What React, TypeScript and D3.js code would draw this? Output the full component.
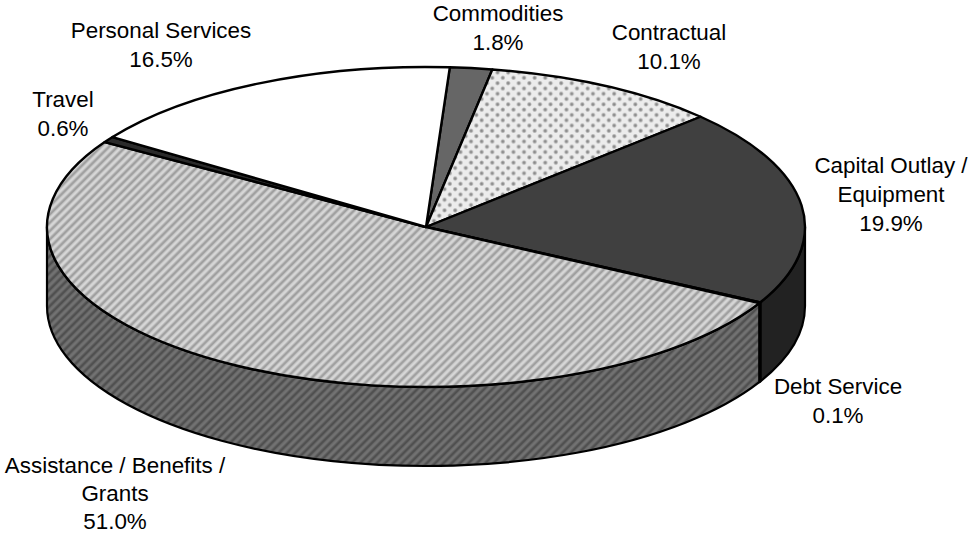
import React from "react";
import * as d3 from "d3";

const categories = ["Commodities", "Contractual", "Capital Outlay / Equipment", "Debt Service", "Assistance / Benefits / Grants", "Travel", "Personal Services"];
const shares = [1.8, 10.1, 19.9, 0.1, 51.0, 0.6, 16.5];
const labelLines = [
  ["Commodities"],
  ["Contractual"],
  ["Capital Outlay /", "Equipment"],
  ["Debt Service"],
  ["Assistance / Benefits /", "Grants"],
  ["Travel"],
  ["Personal Services"],
];

const WIDTH = 971;
const HEIGHT = 534;
const CX = 426;
const CY = 227;
const RX = 379;
const RY = 160;
const DEPTH = 79;
const START_DEG = 3.6;
const FONT = "'Liberation Sans', Arial, sans-serif";
const FONT_SIZE = 22.4;
const LINE_H = 29;

// Anchor (centre x, first baseline y, line step) of each slice's label block, by category order.
const labelAnchors: [number, number, number][] = [
  [498, 21, LINE_H],
  [669, 40, LINE_H],
  [891, 173, LINE_H],
  [838, 394, LINE_H],
  [115, 473, 28],
  [63, 107, LINE_H],
  [161, 38, LINE_H],
];

const topFills = ["#666666", "url(#dots)", "#404040", "#202020", "url(#stripes)", "#2a2a2a", "#ffffff"];
const sideFills = ["#444444", "#888888", "#222222", "#111111", "url(#stripesDark)", "#1c1c1c", "#aaaaaa"];

const pt = (a: number, dy = 0): [number, number] => [CX + RX * Math.sin(a), CY - RY * Math.cos(a) + dy];

const topPath = (a0: number, a1: number) => {
  const [x0, y0] = pt(a0);
  const [x1, y1] = pt(a1);
  const large = a1 - a0 > Math.PI ? 1 : 0;
  return `M${CX},${CY}L${x0},${y0}A${RX},${RY} 0 ${large} 1 ${x1},${y1}Z`;
};

const sidePath = (a0: number, a1: number) => {
  const s = Math.max(a0, Math.PI / 2);
  const e = Math.min(a1, (3 * Math.PI) / 2);
  if (e <= s) return null;
  const [x0, y0] = pt(s);
  const [x1, y1] = pt(e);
  const [x2, y2] = pt(e, DEPTH);
  const [x3, y3] = pt(s, DEPTH);
  return `M${x0},${y0}A${RX},${RY} 0 0 1 ${x1},${y1}L${x2},${y2}A${RX},${RY} 0 0 0 ${x3},${y3}Z`;
};

// Soft-edged stripe tile: a horizontal gradient that the pattern rotates to a diagonal.
const StripeDefs = ({ id, light, dark }: { id: string; light: string; dark: string }) => (
  <>
    <linearGradient id={`${id}Grad`} x1="0" x2="1" y1="0" y2="0">
      <stop offset="0" stopColor={light} />
      <stop offset="0.3" stopColor={light} />
      <stop offset="0.55" stopColor={dark} />
      <stop offset="0.75" stopColor={dark} />
      <stop offset="1" stopColor={light} />
    </linearGradient>
    <pattern id={id} width="5.9" height="5.9" patternUnits="userSpaceOnUse" patternTransform="rotate(45)">
      <rect width="5.9" height="5.9" fill={`url(#${id}Grad)`} />
    </pattern>
  </>
);

export default function App() {
  const start = (START_DEG * Math.PI) / 180;
  const arcs = d3
    .pie<number>()
    .sort(null)
    .startAngle(start)
    .endAngle(start + 2 * Math.PI)(shares);

  return (
    <svg
      width={WIDTH}
      height={HEIGHT}
      viewBox={`0 0 ${WIDTH} ${HEIGHT}`}
      style={{ position: "absolute", left: 0, top: 0, background: "#fff" }}
    >
      <defs>
        <radialGradient id="dotGrad">
          <stop offset="0" stopColor="#808080" />
          <stop offset="0.45" stopColor="#999999" />
          <stop offset="1" stopColor="#ececec" />
        </radialGradient>
        <pattern id="dots" width="10.6" height="10.6" patternUnits="userSpaceOnUse" x="2" y="1">
          <rect width="10.6" height="10.6" fill="#ececec" />
          <circle cx="2.65" cy="2.65" r="2.6" fill="url(#dotGrad)" />
          <circle cx="7.95" cy="7.95" r="2.6" fill="url(#dotGrad)" />
        </pattern>
        <StripeDefs id="stripes" light="#d6d6d6" dark="#a0a0a0" />
        <StripeDefs id="stripesDark" light="#727272" dark="#505050" />
      </defs>

      {arcs.map((d, i) => {
        const p = sidePath(d.startAngle, d.endAngle);
        return p ? (
          <path key={`side-${i}`} d={p} fill={sideFills[i]} stroke="#000" strokeWidth={2.2} strokeLinejoin="round" />
        ) : null;
      })}
      {arcs.map((d, i) => (
        <path
          key={`top-${i}`}
          d={topPath(d.startAngle, d.endAngle)}
          fill={topFills[i]}
          stroke="#000"
          strokeWidth={2.4}
          strokeLinejoin="round"
        />
      ))}

      {categories.map((c, i) => {
        const [x, y, step] = labelAnchors[i];
        const lines = [...labelLines[i], `${shares[i].toFixed(1)}%`];
        return (
          <text key={c} x={x} y={y} textAnchor="middle" fontFamily={FONT} fontSize={FONT_SIZE} fill="#000">
            {lines.map((l, j) => (
              <tspan key={j} x={x} y={y + j * step}>
                {l}
              </tspan>
            ))}
          </text>
        );
      })}
    </svg>
  );
}
